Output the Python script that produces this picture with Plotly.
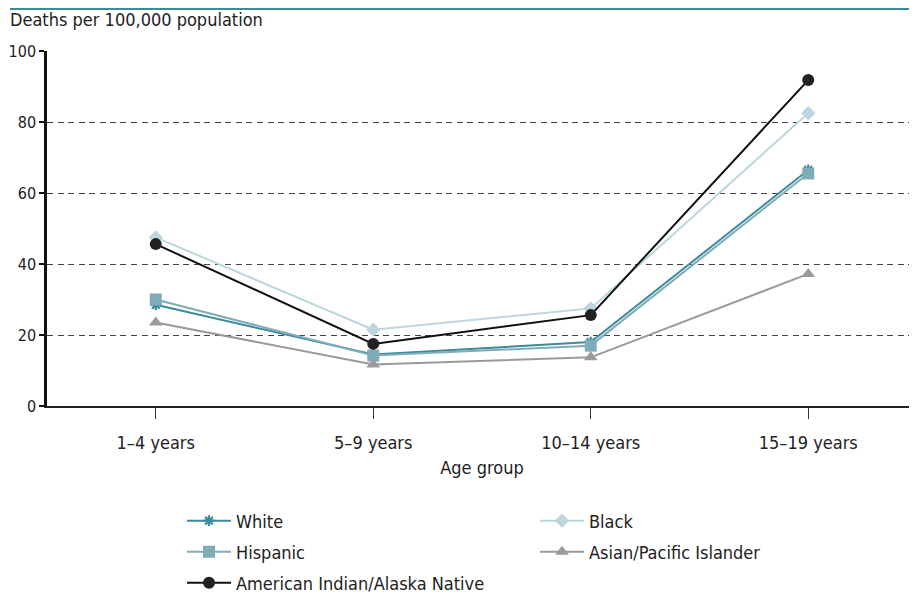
import plotly.graph_objects as go

age_groups = ["1–4 years", "5–9 years", "10–14 years", "15–19 years"]
white = [28.5, 14.5, 18.0, 66.5]
black = [47.5, 21.5, 27.5, 82.5]
hispanic = [30.0, 14.2, 17.0, 65.5]
asian_pi = [23.5, 11.7, 13.7, 37.2]
aian = [45.6, 17.5, 25.6, 91.8]
y_ticks = [0, 20, 40, 60, 80, 100]

FONT = "Liberation Sans Narrow, DejaVu Sans Condensed, Roboto Condensed, Arial Narrow, sans-serif"
FS = 18
OFF = 8  # page body margin offset
W, H = 917 - OFF, 595 - OFF
L, R, T, B = 47 - OFF, 0, 51 - OFF, 595 - 406
pw, ph = W - L - R, H - T - B

series = [
    ("White", white, "#3b8b9b", dict(symbol="asterisk-open", size=9, line=dict(width=2.2, color="#3b8b9b")), "legend"),
    ("Black", black, "#bcd6dd", dict(symbol="diamond", size=11, color="#bcd6dd"), "legend"),
    ("Hispanic", hispanic, "#7eacb9", dict(symbol="square", size=12, color="#7eacb9"), "legend2"),
    ("Asian/Pacific Islander", asian_pi, "#9a9a9a", dict(symbol="triangle-up", size=12, color="#9a9a9a"), "legend2"),
    ("American Indian/Alaska Native", aian, "#111111", dict(symbol="circle", size=12, color="#222222"), "legend3"),
]

fig = go.Figure()
for name, vals, col, mk, lg in series:
    fig.add_trace(go.Scatter(x=age_groups, y=vals, name=name, mode="lines+markers",
                             line=dict(color=col, width=2), marker=mk, legend=lg))

leg_common = dict(orientation="h", font=dict(family=FONT, size=FS, color="#222"),
                  entrywidth=294, entrywidthmode="pixels", itemwidth=44,
                  xanchor="left", yanchor="middle", bgcolor="rgba(0,0,0,0)", borderwidth=0)

def px_x(x):
    return (x - OFF - L) / pw

def px_y(y):
    return (H - B - (y - OFF)) / ph

lx = px_x(182)

fig.update_layout(
    width=W, height=H,
    margin=dict(l=L, r=R, t=T, b=B, autoexpand=False),
    plot_bgcolor="white", paper_bgcolor="white",
    font=dict(family=FONT, size=FS, color="#222"),
    showlegend=True,
    legend=dict(leg_common, x=lx, y=px_y(521)),
    legend2=dict(leg_common, x=lx, y=px_y(552)),
    legend3=dict(leg_common, x=lx, y=px_y(583)),
    xaxis=dict(range=[-0.5, 3.5], showgrid=False, showline=True, linecolor="#222", linewidth=2,
               ticks="outside", ticklen=11, tickcolor="#333", tickwidth=1,
               ticklabelstandoff=8,
               tickfont=dict(family=FONT, size=FS, color="#222"),
               title=dict(text="Age group", font=dict(family=FONT, size=FS, color="#222"), standoff=10)),
    yaxis=dict(range=[0, 100], tickvals=y_ticks, showgrid=True, gridcolor="#444", griddash="6px,4.5px",
               gridwidth=1, showline=True, linecolor="#111", linewidth=2.5, zeroline=False,
               ticks="outside", ticklen=5, tickcolor="#111", tickwidth=1.5,
               ticklabelstandoff=0,
               tickfont=dict(family=FONT, size=16, color="#222")),
    annotations=[dict(text="Deaths per 100,000 population", xref="paper", yref="paper",
                      x=px_x(8), y=px_y(20), xanchor="left", yanchor="middle", showarrow=False,
                      font=dict(family=FONT, size=FS, color="#222"))],
    shapes=[dict(type="line", xref="paper", yref="paper", x0=px_x(10), x1=1,
                 y0=px_y(9), y1=px_y(9), line=dict(color="#3b8b9b", width=2))],
)

fig.write_html("out.html")
